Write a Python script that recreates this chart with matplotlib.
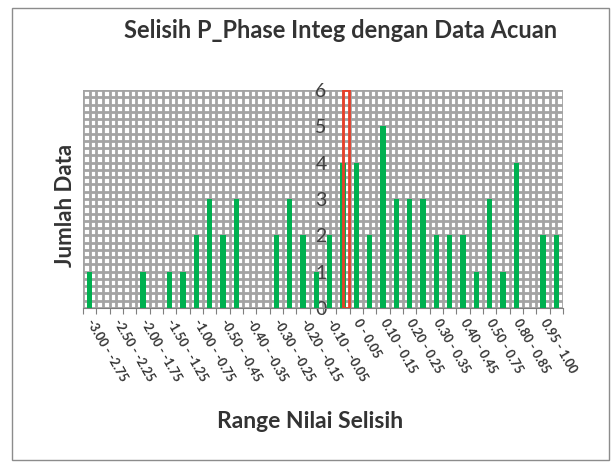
import numpy as np
import matplotlib
matplotlib.use("Agg")
import matplotlib.pyplot as plt
from matplotlib.patches import Rectangle

# ── data ──────────────────────────────────────────────
# counts per range bin (36 bins, only every other bin is labelled)
counts = [1, 0, 0, 0, 1, 0, 1, 1, 2, 3, 2, 3, 0, 0, 2, 3, 2, 1,
          2, 4, 4, 2, 5, 3, 3, 3, 2, 2, 2, 1, 3, 1, 4, 0, 2, 2]
tick_labels = ["-3.00 - -2.75", "-2.50 - -2.25", "-2.00 - -1.75",
               "-1.50 - -1.25", "-1.00 - -0.75", "-0.50 - -0.45",
               "-0.40 - -0.35", "-0.30 - -0.25", "-0.20 - -0.15",
               "-0.10 - -0.05", "0 - 0.05", "0.10 - 0.15",
               "0.20 - 0.25", "0.30 - 0.35", "0.40 - 0.45",
               "0.50 - 0.75", "0.80 - 0.85", "0.95 - 1.00"]
ref_bin = 19          # reference marker (red outline)
ref_height = 6
y_ticks = [0, 1, 2, 3, 4, 5, 6]

GREEN = "#00b050"
RED = "#e8402a"
GRID = "#a3a3a3"
TXT = "#333333"

plt.rcParams["font.family"] = ["Lato", "DejaVu Sans"]

fig = plt.figure(figsize=(6.16, 4.63), dpi=100)
ax = fig.add_axes([83 / 616, 1 - 308 / 463, 480 / 616, 218 / 463])

n = len(counts)
x = np.arange(n)
ax.set_xlim(-0.5, n - 0.5)
ax.set_ylim(0, max(y_ticks))

# dense Excel-style grid
for gx in np.arange(-0.5, n - 0.49, 0.5):
    ax.axvline(gx, color=GRID, lw=2.0, zorder=0)
for gy in np.arange(0, max(y_ticks) + 0.01, 0.2):
    ax.axhline(gy, color=GRID, lw=2.0, zorder=0)

ax.bar(x, counts, width=0.42, color=GREEN, zorder=3)
ax.bar(ref_bin + 0.25, ref_height, width=0.45, fill=False,
       edgecolor=RED, lw=2, zorder=4)

# y axis sits in the middle (between bins 18 and 19)
ax.spines["left"].set_position(("data", 18.5))
ax.spines["left"].set_visible(False)
ax.spines["top"].set_visible(False)
ax.spines["right"].set_visible(False)
ax.spines["bottom"].set_color("#7f7f7f")
ax.set_yticks(y_ticks)
ax.tick_params(axis="y", length=0, pad=7, labelsize=14, labelcolor="#404040")

# tick marks at bin borders, labels on every other bin
ax.set_xticks(np.arange(-0.5, n, 1.0))
ax.set_xticklabels([])
ax.tick_params(axis="x", which="major", length=4, color="#7f7f7f")
ax.set_xticks(np.arange(0, n, 2), minor=True)
ax.set_xticklabels(tick_labels, minor=True, rotation=-60, ha="left",
                   va="center", rotation_mode="anchor", fontsize=9,
                   fontweight="bold", color=TXT)
ax.tick_params(axis="x", which="minor", length=0, pad=9)

fig.text(341 / 616, 1 - 30 / 463, "Selisih P_Phase Integ dengan Data Acuan",
         ha="center", va="center", fontsize=17, fontweight="bold", color=TXT)
fig.text(65 / 616, 1 - 205 / 463, "Jumlah Data", rotation=90,
         ha="center", va="center", fontsize=16, fontweight="bold", color=TXT)
fig.text(310 / 616, 1 - 422 / 463, "Range Nilai Selisih",
         ha="center", va="center", fontsize=16.5, fontweight="bold", color=TXT)

fig.patches.append(Rectangle((12 / 616, 3 / 463), 597 / 616, 452 / 463,
                             transform=fig.transFigure, fill=False,
                             edgecolor="#8c8c8c", lw=1))

fig.savefig("out.png", dpi=100)
